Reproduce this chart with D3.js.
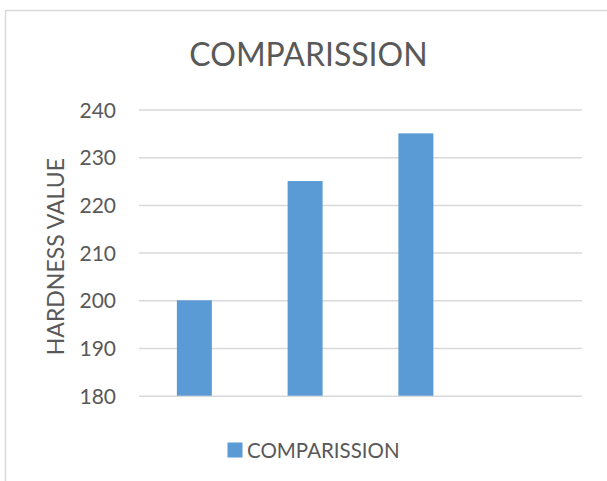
<!DOCTYPE html>
<html>
<head>
<meta charset="utf-8">
<script src="https://cdn.jsdelivr.net/npm/d3@7"></script>
<style>
  body { margin: 0; background: #fff; }
  svg { display: block; font-family: Lato, "Open Sans", sans-serif; }
</style>
</head>
<body>
<svg id="chart"></svg>
<script>
// values
var categories = ["1", "2", "3", "4"]
var hardness = [200, 225, 235, null]
var y_ticks = [180, 190, 200, 210, 220, 230, 240]
var series_name = "COMPARISSION"
var title_text = "COMPARISSION"
var y_title = "HARDNESS VALUE"

var width = 607
var height = 481
var margins = {"left": 139, "right": 25, "top": 109.5, "bottom": 85.3}
var plot_w = width - margins.left - margins.right
var plot_h = height - margins.top - margins.bottom

var text_col = "#595959"
var grid_col = "#d9d9d9"
var bar_col = "#5b9bd5"

var svg = d3.select("#chart")
  .attr("width", width)
  .attr("height", height)

// chart area border (cut off right and bottom like the screenshot)
svg.append("rect")
  .attr("x", 5.5)
  .attr("y", 10.5)
  .attr("width", 640)
  .attr("height", 520)
  .attr("fill", "#fff")
  .attr("stroke", grid_col)
  .attr("stroke-width", 1.5)

svg.append("text")
  .attr("x", 308.5)
  .attr("y", 66)
  .attr("text-anchor", "middle")
  .attr("font-size", "32px")
  .attr("fill", text_col)
  .text(title_text)

var g = svg.append("g")
  .attr("transform", "translate(" + margins.left + "," + margins.top + ")")

var xScale = d3.scaleBand()
  .domain(categories)
  .range([0, plot_w])
  .paddingInner(0.684)
  .paddingOuter(0.342)

var yScale = d3.scaleLinear()
  .domain([180, 240])
  .range([plot_h, 0])

var yAxis = g.append("g")
  .attr("class", "y axis")
  .call(d3.axisLeft(yScale)
    .tickValues(y_ticks)
    .tickSize(-plot_w)
    .tickPadding(23))

yAxis.select(".domain").remove()
yAxis.selectAll("line")
  .attr("stroke", grid_col)
  .attr("stroke-width", 1.5)
yAxis.selectAll("text")
  .attr("fill", text_col)
  .attr("font-size", "21px")
  .attr("font-family", "Lato, 'Open Sans', sans-serif")
  .attr("dy", "0.36em")

g.selectAll(".bar")
  .data(hardness.map(function(d, i){ return {"cat": categories[i], "val": d} })
    .filter(function(d){ return d.val !== null }))
  .enter()
  .append("rect")
  .attr("class", "bar")
  .attr("x", function(d){ return xScale(d.cat) })
  .attr("width", xScale.bandwidth())
  .attr("y", function(d){ return yScale(d.val) })
  .attr("height", function(d){ return plot_h - yScale(d.val) })
  .attr("fill", bar_col)

svg.append("text")
  .attr("transform", "translate(63.5," + (margins.top + plot_h / 2 + 4) + ") rotate(-90)")
  .attr("text-anchor", "middle")
  .attr("font-size", "23px")
  .attr("fill", text_col)
  .text(y_title)

// legend
var legend = svg.append("g")
  .attr("transform", "translate(227.5,442.5)")
legend.append("rect")
  .attr("width", 15)
  .attr("height", 15)
  .attr("fill", bar_col)
legend.append("text")
  .attr("x", 19.5)
  .attr("y", 15)
  .attr("font-size", "20.5px")
  .attr("fill", text_col)
  .text(series_name)
</script>
</body>
</html>
